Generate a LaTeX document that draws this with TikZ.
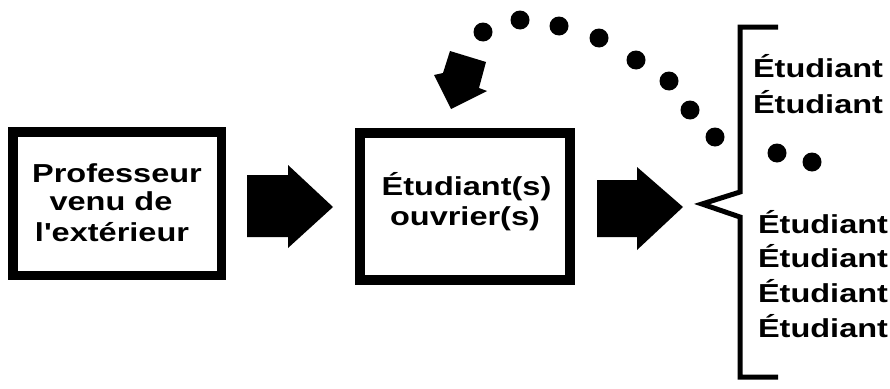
\documentclass[tikz,border=0pt]{standalone}
\usepackage{fontspec}
\newfontfamily\wfont{Liberation Sans}[FakeStretch=1.25]
\begin{document}
\begin{tikzpicture}[x=1pt,y=-1pt,
  box/.style={draw=black, line width=9.5pt, fill=white, inner sep=0pt, outer sep=0pt},
  txt/.style={inner sep=0pt, outer sep=0pt, font=\wfont\bfseries\fontsize{26}{30}\selectfont},
  blockarrow/.style={fill=black, draw=none},
  dot/.style={circle, fill=black, draw=none, minimum size=19pt, inner sep=0pt},
  bracket/.style={draw=black, line width=5pt, line join=miter}]
\useasboundingbox (0,0) rectangle (890,388);
% boxes
\node[box, minimum width=208.5pt, minimum height=143.5pt] (b1) at (117,203.5) {};
\node[box, minimum width=210pt, minimum height=147pt] (b2) at (465,206.5) {};
% box texts
\node[txt, anchor=base] (p1) at (117,182) {Professeur};
\node[txt, anchor=base] (p2) at (111,210) {venu de};
\node[txt, anchor=base] (p3) at (112,241) {l'extérieur};
\node[txt, anchor=base] (s1) at (466.5,195) {Étudiant(s)};
\node[txt, anchor=base] (s2) at (465,225) {ouvrier(s)};
% block arrows
\coordinate (a1) at (247,206);
\fill[blockarrow] (a1) ++(0,-31) -- ++(41,0) -- ++(0,-10) -- (333,207) -- (288,248) -- (288,237) -- (247,237) -- cycle;
\coordinate (a2) at (597,208);
\fill[blockarrow] (a2) ++(0,-28) -- ++(40,0) -- ++(0,-13) -- (683,207) -- (637,250) -- (637,237) -- (597,237) -- cycle;
% return arrow head
\fill[blockarrow] (450,51) -- (486,62) -- (479,88) -- (487,91) -- (451,109) -- (434,75) -- (443,73) -- cycle;
% dotted return path
\node[dot] (d1) at (483,32) {};
\node[dot] (d2) at (520,20) {};
\node[dot] (d3) at (559,26) {};
\node[dot] (d4) at (599,38) {};
\node[dot] (d5) at (636,60) {};
\node[dot] (d6) at (669,81) {};
\node[dot] (d7) at (690,110) {};
\node[dot] (d8) at (715,137) {};
% bracket
\coordinate (k1) at (778,27);
\coordinate (k2) at (778,377);
\draw[bracket] (k1) -- (740,27) -- (740,192) -- (702,204) -- (740,217) -- (740,377) -- (k2);
% list
\node[txt, anchor=base west] (e1) at (753,77) {Étudiant};
\node[txt, anchor=base west] (e2) at (753,113) {Étudiant};
\node[dot] (e0a) at (777,153) {};
\node[dot] (e0b) at (812,162) {};
\node[txt, anchor=base west] (e3) at (758,233) {Étudiant};
\node[txt, anchor=base west] (e4) at (758,267) {Étudiant};
\node[txt, anchor=base west] (e5) at (758,302) {Étudiant};
\node[txt, anchor=base west] (e6) at (758,337) {Étudiant};
\end{tikzpicture}
\end{document}
